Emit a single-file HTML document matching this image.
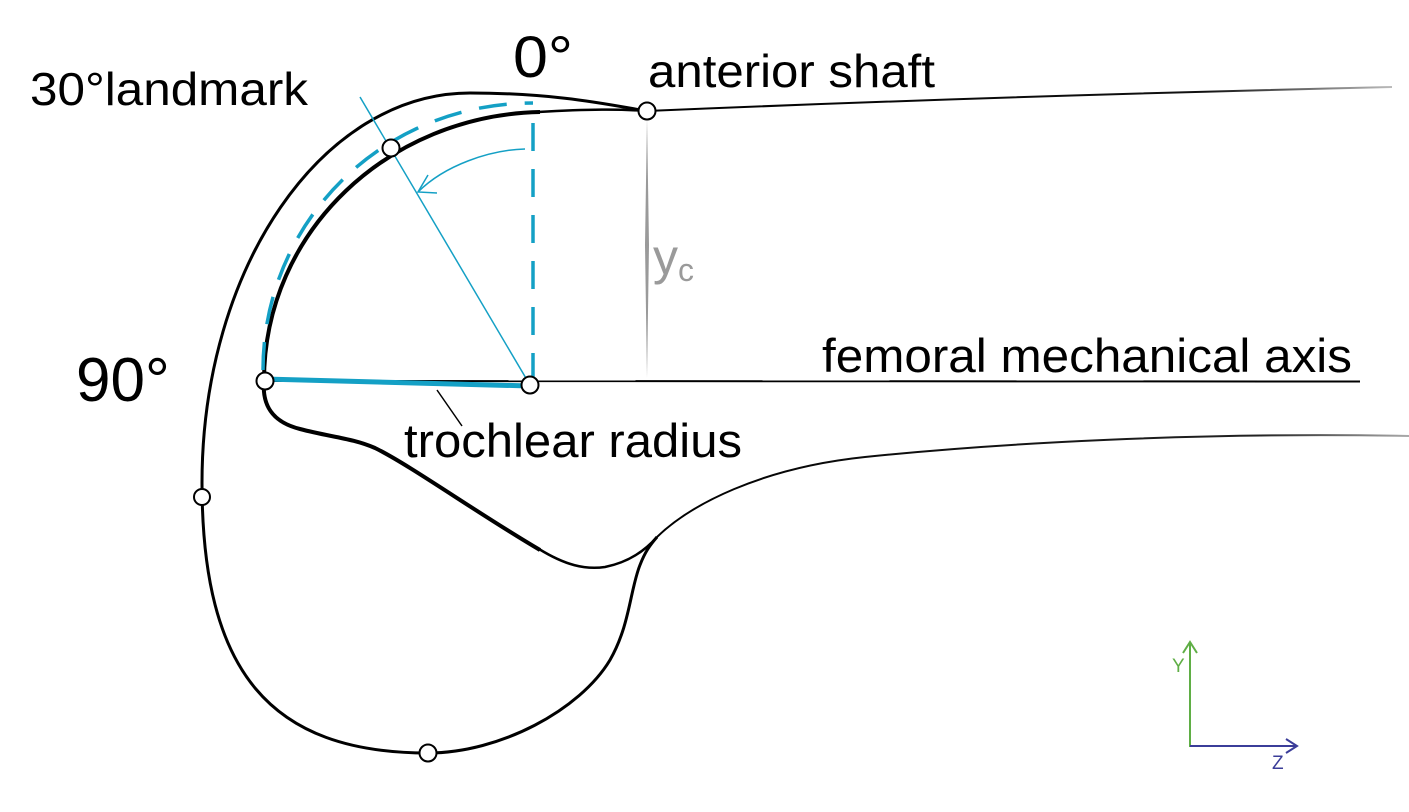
<!DOCTYPE html>
<html>
<head>
<meta charset="utf-8">
<style>
html,body{margin:0;padding:0;background:#fff;}
svg{display:block;}
text{font-family:"Liberation Sans",Arial,sans-serif;}
</style>
</head>
<body>
<svg width="1409" height="812" viewBox="0 0 1409 812" xmlns="http://www.w3.org/2000/svg">
  <defs>
    <linearGradient id="fadeTop" gradientUnits="userSpaceOnUse" x1="647" y1="0" x2="1392" y2="0">
      <stop offset="0" stop-color="#000"/>
      <stop offset="0.75" stop-color="#111"/>
      <stop offset="1" stop-color="#bbb"/>
    </linearGradient>
    <linearGradient id="fadeLow" gradientUnits="userSpaceOnUse" x1="657" y1="0" x2="1409" y2="0">
      <stop offset="0" stop-color="#000"/>
      <stop offset="0.8" stop-color="#222"/>
      <stop offset="1" stop-color="#aaa"/>
    </linearGradient>
  </defs>

  <!-- Anterior shaft line -->
  <path d="M647,111 Q1000,96 1392,87" fill="none" stroke="url(#fadeTop)" stroke-width="2"/>
  <!-- Lower shaft line -->
  <path d="M657,537 C690,505 760,468 865,457 C1000,443 1200,432 1409,436" fill="none" stroke="url(#fadeLow)" stroke-width="2"/>

  <!-- Outer condyle outline -->
  <path d="M647,111 C615,106 560,93 470,93 C322,93 202,268 202,483 C202,672 270,753 428,753 C500,753 580,710 610,660 C630,625 630,590 640,565 C645,552 650,545 657,537"
        fill="none" stroke="#000" stroke-width="3"/>

  <!-- Inner trochlear arc (thick) -->
  <path d="M264,381 C264,230 390,115 540,112" fill="none" stroke="#000" stroke-width="4"/>
  <path d="M538,112 C590,109 620,109 647,111" fill="none" stroke="#000" stroke-width="2.5"/>

  <!-- Trochlear groove -->
  <path d="M264,381 C262,405 272,422 300,429 C330,437 352,438 375,448 C410,465 480,515 540,550" fill="none" stroke="#000" stroke-width="4"/>
  <path d="M539,549 C565,565 585,570 605,567 C625,563 643,553 657,537" fill="none" stroke="#000" stroke-width="2.5"/>

  <!-- Femoral mechanical axis -->
  <line x1="264" y1="381" x2="1360" y2="381.5" stroke="#000" stroke-width="2"/>

  <!-- yc gray -->
  <polygon points="647,118 649,245 647,378 645,245" fill="#9a9a9a"/>

  <!-- Dashed blue arc and vertical -->
  <path d="M263,370 C263,222 382,103 533,103" fill="none" stroke="#14a0c5" stroke-width="3.5" stroke-dasharray="28 18"/>
  <line x1="533" y1="123" x2="533" y2="377" stroke="#14a0c5" stroke-width="3.5" stroke-dasharray="28 18"/>

  <!-- Thin blue 30° line -->
  <line x1="360" y1="97" x2="530" y2="385" stroke="#14a0c5" stroke-width="1.5"/>
  <!-- Blue arc arrow -->
  <path d="M525,149 C490,150 445,165 418,192" fill="none" stroke="#14a0c5" stroke-width="1.5"/>
  <polyline points="428,175 418,192 437,193" fill="none" stroke="#14a0c5" stroke-width="1.5"/>

  <!-- Thick blue radius -->
  <line x1="264" y1="379" x2="530" y2="386" stroke="#14a0c5" stroke-width="5"/>

  <!-- leader line -->
  <line x1="437" y1="390" x2="462" y2="426" stroke="#000" stroke-width="1.5"/>

  <!-- Nodes -->
  <g fill="#fff" stroke="#000" stroke-width="2">
    <circle cx="647" cy="111" r="8.5"/>
    <circle cx="391" cy="148" r="8.5"/>
    <circle cx="265" cy="381" r="8.5"/>
    <circle cx="530" cy="385" r="8.5"/>
    <circle cx="202" cy="497" r="8"/>
    <circle cx="428" cy="753" r="8.5"/>
  </g>

  <!-- Labels -->
  <text x="30" y="105" font-size="46" textLength="278" lengthAdjust="spacingAndGlyphs">30°landmark</text>
  <text x="513" y="77" font-size="58" textLength="60" lengthAdjust="spacingAndGlyphs">0°</text>
  <text x="648" y="87" font-size="46" textLength="287" lengthAdjust="spacingAndGlyphs">anterior shaft</text>
  <text x="76" y="401" font-size="62">90°</text>
  <text x="822" y="372" font-size="47" textLength="530" lengthAdjust="spacingAndGlyphs">femoral mechanical axis</text>
  <text x="404" y="457" font-size="47" textLength="338" lengthAdjust="spacingAndGlyphs">trochlear radius</text>
  <text x="653" y="274" font-size="50" fill="#9a9a9a">y</text>
  <text x="678" y="281" font-size="32" fill="#9a9a9a">c</text>

  <!-- Axis icon -->
  <g fill="none" stroke-width="2">
    <line x1="1190" y1="747" x2="1190" y2="642" stroke="#5fae45"/>
    <polyline points="1183,653 1190,642 1197,653" stroke="#5fae45"/>
    <line x1="1190" y1="746" x2="1296" y2="746" stroke="#3b3d99"/>
    <polyline points="1286,739 1297,746 1286,753" stroke="#3b3d99"/>
  </g>
  <text x="1172" y="672" font-size="19" fill="#5fae45">Y</text>
  <text x="1272" y="769" font-size="19" fill="#3b3d99">Z</text>
</svg>
</body>
</html>
